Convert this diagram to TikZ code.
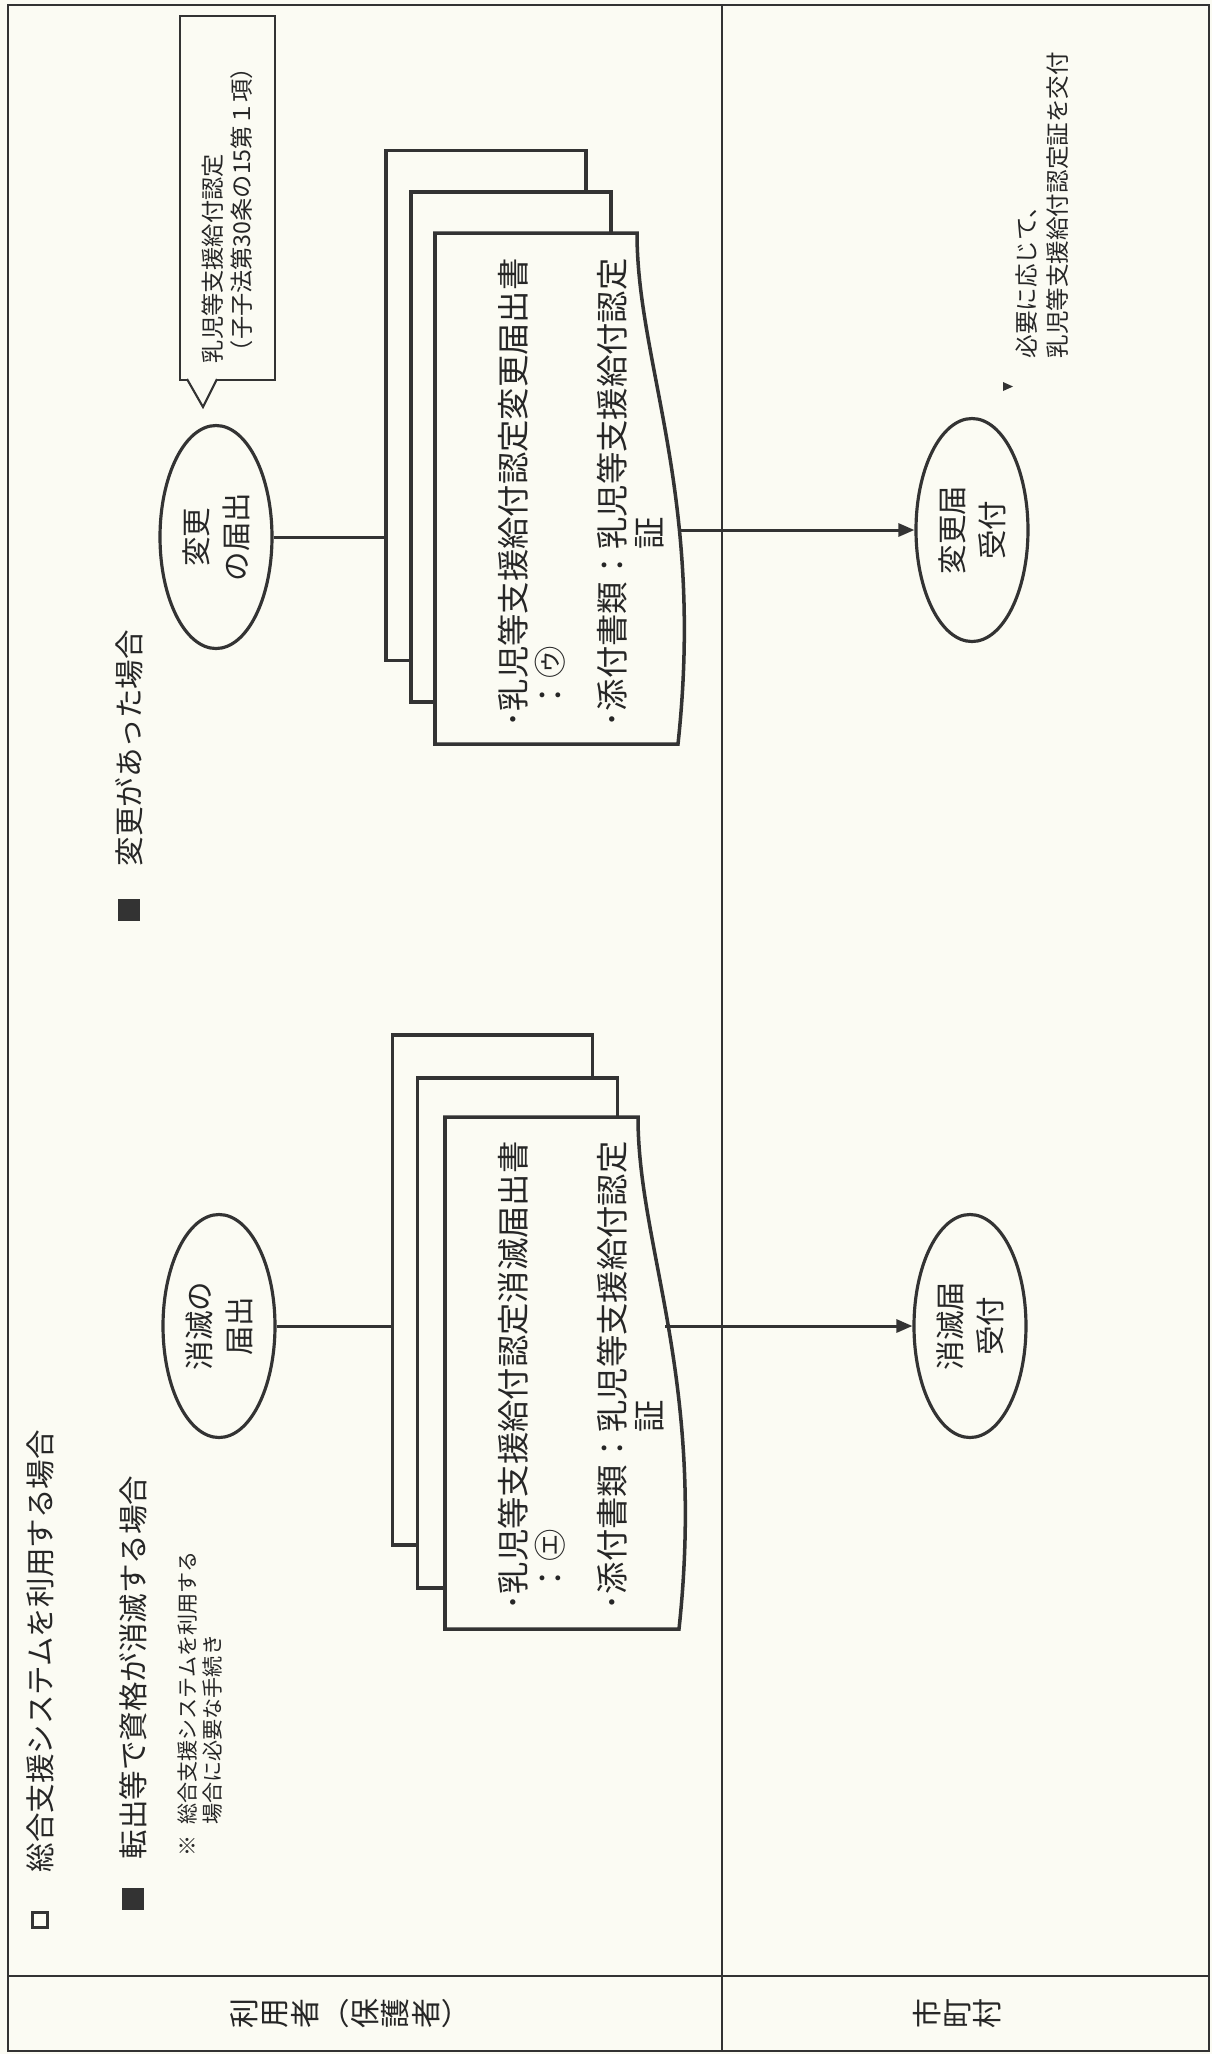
\documentclass[tikz,border=0pt]{standalone}
\usepackage{fontspec}
\setmainfont{Noto Sans CJK JP}
\usepackage{tikz}
\usepackage{xcolor}
\usetikzlibrary{arrows.meta,shapes.geometric}
\definecolor{paper}{HTML}{FBFBF3}
\definecolor{ink}{HTML}{333333}
\definecolor{inktext}{HTML}{262626}
\tikzset{
  lane/.style={draw=ink,line width=0.8pt},
  oval/.style={ellipse,draw=ink,fill=paper,line width=0.9pt,
               minimum width=2.23cm,minimum height=1.12cm,inner sep=0pt,
               align=center,text=inktext,font=\fontsize{8.4}{11.4}\selectfont},
  sheet/.style={draw=ink,fill=paper,line width=1pt},
  stacksheet/.style={sheet,minimum width=5.1cm,minimum height=2.0cm,
                     inner sep=0pt},
  doctext/.style={anchor=north west,align=left,inner sep=0pt,text=inktext,
                  font=\fontsize{9.2}{10.6}\selectfont},
  heading/.style={anchor=west,inner sep=0pt,text=inktext,
                  font=\fontsize{8.4}{10}\selectfont},
  headcell/.style={inner sep=0pt,align=center,text=inktext,
                   font={\fontsize{8.5}{8.6}\selectfont\lineskiplimit=-4pt}},
  fullbox/.style={fill=ink,minimum size=0.22cm,inner sep=0pt},
  openbox/.style={draw=ink,line width=1.1pt,minimum size=0.15cm,inner sep=0pt},
  smallnote/.style={anchor=west,align=left,inner sep=0pt,text=inktext,
                    font=\fontsize{6}{7}\selectfont},
  sidenote/.style={anchor=west,align=left,inner sep=0pt,text=inktext,
                   font=\fontsize{6.7}{8.8}\selectfont},
  callout/.style={draw=ink,fill=paper,line width=0.6pt,minimum width=3.64cm,
                  minimum height=0.95cm,text width=3.30cm,align=left,
                  inner sep=0pt,text=inktext,font=\fontsize{6.6}{8.2}\selectfont},
  link/.style={line width=0.85pt,draw=ink},
  flow/.style={-{Triangle[length=1.6mm,width=1.3mm]},line width=0.85pt,
               draw=ink}
}
\begin{document}
\begin{tikzpicture}[x=1cm,y=1cm]
  \fill[paper] (0,0) rectangle (12.12,-20.54);
  \useasboundingbox (0,0) rectangle (12.12,-20.54);
  \begin{scope}[shift={(0,-20.54)},rotate=90,transform shape]
    % table
    \draw[lane] (0.03,-0.08) rectangle (20.49,-12.09);
    \draw[lane] (0.78,-0.08) -- (0.78,-12.09);
    \draw[lane] (0.03,-7.22) -- (20.49,-7.22);
    \node[headcell] (userHead) at (0.40,-3.49)
      {利\\用\\者\\︵\\保\\護\\者\\︶};
    \node[headcell] (cityHead) at (0.40,-9.57) {市\\町\\村};

    % headings
    \node[openbox] (sysMark) at (1.34,-0.40) {};
    \node[heading] (sysHead) at (1.81,-0.40) {総合支援システムを利用する場合};
    \node[fullbox] (quitMark) at (1.55,-1.33) {};
    \node[heading] (quitHead) at (1.94,-1.33) {転出等で資格が消滅する場合};
    \node[smallnote] (sysNote) at (1.97,-2.00)
      {※\hspace{0.5em}総合支援システムを利用する\\\hphantom{※\hspace{0.5em}}場合に必要な手続き};
    \node[fullbox] (chgMark) at (11.44,-1.29) {};
    \node[heading] (chgHead) at (11.87,-1.29) {変更があった場合};

    % loss of eligibility
    \node[stacksheet] (quitBack) at (7.64,-4.925) {};
    \node[stacksheet] (quitMid) at (7.21,-5.175) {};
    \draw[sheet] (4.25,-4.45) -- (9.37,-4.45) -- (9.37,-6.38)
      .. controls (8.06,-6.38) and (6.76,-7.06) .. (4.25,-6.79) -- cycle;
    \node[doctext] (quitList) at (4.43,-4.975)
      {･乳児等支援給付認定消滅届出書\\\hphantom{･}：㋓\\[0.24cm]･添付書類：乳児等支援給付認定\\\hphantom{･添付書類：}証};
    \coordinate (quitTop) at (7.28,-3.925);
    \coordinate (quitEdge) at (7.28,-6.65);
    \node[oval] (quitIn) at (7.28,-2.19) {消滅の\\届出};
    \node[oval] (quitRecv) at (7.28,-9.70) {消滅届\\受付};
    \draw[link] (quitIn) -- (quitTop);
    \draw[flow] (quitEdge) -- (quitRecv);

    % change of details
    \node[stacksheet] (chgBack) at (16.485,-4.86) {};
    \node[stacksheet] (chgMid) at (16.07,-5.11) {};
    \draw[sheet] (13.10,-4.35) -- (18.21,-4.35) -- (18.21,-6.37)
      .. controls (16.90,-6.37) and (15.60,-7.05) .. (13.10,-6.78) -- cycle;
    \node[doctext] (chgList) at (13.26,-4.975)
      {･乳児等支援給付認定変更届出書\\\hphantom{･}：㋒\\[0.24cm]･添付書類：乳児等支援給付認定\\\hphantom{･添付書類：}証};
    \coordinate (chgTop) at (15.17,-3.86);
    \coordinate (chgEdge) at (15.24,-6.78);
    \node[oval] (chgIn) at (15.17,-2.16) {変更\\の届出};
    \node[oval] (chgRecv) at (15.24,-9.72) {変更届\\受付};
    \draw[link] (chgIn) -- (chgTop);
    \draw[flow] (chgEdge) -- (chgRecv);

    \node[callout] (lawNote) at (18.56,-2.275)
      {乳児等支援給付認定\\（子子法第30条の15第１項）};
    \filldraw[fill=paper,draw=ink,line width=0.6pt]
      (16.75,-1.87) -- (16.47,-2.03) -- (16.75,-2.17);

    \fill[ink] (16.63,-10.03) -- (16.72,-10.03) -- (16.675,-10.13) -- cycle;
    \node[sidenote] (issueNote) at (16.95,-10.425)
      {必要に応じて、\\乳児等支援給付認定証を交付};
  \end{scope}
\end{tikzpicture}
\end{document}
